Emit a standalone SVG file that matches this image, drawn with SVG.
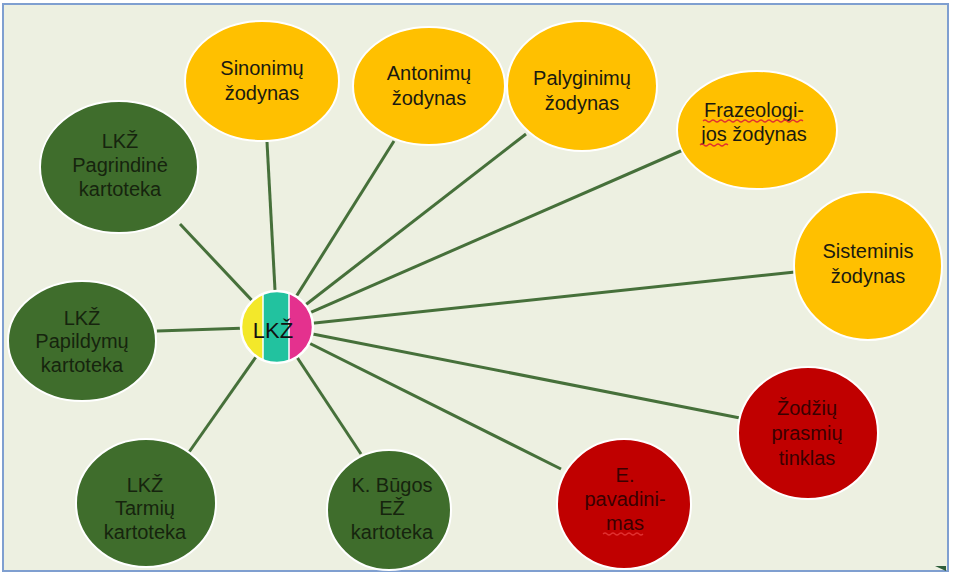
<svg xmlns="http://www.w3.org/2000/svg" width="953" height="577" viewBox="0 0 953 577">
<defs>
<style>
.lbl{font-family:"Liberation Sans",Arial,sans-serif;font-size:20px;text-anchor:middle}
.y{fill:#FFC000;stroke:#FFFFFF;stroke-width:2}
.g{fill:#3F6D2C;stroke:#FFFFFF;stroke-width:2}
.r{fill:#C00000;stroke:#FFFFFF;stroke-width:2}
.ty{fill:#1A1A10}
.tg{fill:#16240E}
.tr{fill:#3A0000}
.conn line{stroke:#46703A;stroke-width:3}
.sq{fill:none;stroke:#E03030;stroke-width:1.2}
</style>
</defs>
<rect x="0" y="0" width="953" height="577" fill="#FFFFFF"/>
<rect x="3" y="4" width="945" height="567" fill="#EDF0E1" stroke="#7F9FD0" stroke-width="2"/>
<polygon points="935,566 946,566 946,571" fill="#2E5E3A"/>
<g id="connectors" class="conn">
<line x1="277" y1="327" x2="267" y2="142"/>
<line x1="277" y1="327" x2="394" y2="141"/>
<line x1="277" y1="327" x2="526" y2="134"/>
<line x1="277" y1="327" x2="683" y2="150"/>
<line x1="277" y1="327" x2="795" y2="272"/>
<line x1="277" y1="327" x2="740" y2="418"/>
<line x1="277" y1="327" x2="561" y2="469"/>
<line x1="277" y1="327" x2="361" y2="454"/>
<line x1="277" y1="327" x2="187" y2="455"/>
<line x1="277" y1="327" x2="157" y2="331"/>
<line x1="277" y1="327" x2="180" y2="224"/>
</g>
<g id="sinonimu">
<ellipse class="y" cx="262" cy="81" rx="77" ry="60"/>
<text class="lbl ty" x="262" y="75">Sinonimų</text>
<text class="lbl ty" x="262" y="100">žodynas</text>
</g>
<g id="antonimu">
<ellipse class="y" cx="429" cy="86" rx="76" ry="59"/>
<text class="lbl ty" x="429" y="80">Antonimų</text>
<text class="lbl ty" x="429" y="105">žodynas</text>
</g>
<g id="palyginimu">
<ellipse class="y" cx="582" cy="86" rx="75" ry="65"/>
<text class="lbl ty" x="582" y="85">Palyginimų</text>
<text class="lbl ty" x="582" y="110">žodynas</text>
</g>
<g id="frazeologijos">
<ellipse class="y" cx="757" cy="130" rx="80" ry="59"/>
<text class="lbl ty" x="754" y="117">Frazeologi-</text>
<text class="lbl ty" x="754" y="141">jos žodynas</text>
<path class="sq" d="M703,121 q2,-2 4,0 t4,0 t4,0 t4,0 t4,0 t4,0 t4,0 t4,0 t4,0 t4,0 t4,0 t4,0 t4,0 t4,0 t4,0 t4,0 t4,0 t4,0 t4,0 t4,0 t4,0 t4,0 t4,0 t4,0 t4,0"/>
<path class="sq" d="M700,145 q2,-2 4,0 t4,0 t4,0 t4,0 t4,0 t4,0 t4,0"/>
</g>
<g id="sisteminis">
<ellipse class="y" cx="868" cy="266" rx="74" ry="74"/>
<text class="lbl ty" x="868" y="258">Sisteminis</text>
<text class="lbl ty" x="868" y="283">žodynas</text>
</g>
<g id="zodziu">
<ellipse class="r" cx="808" cy="433" rx="70" ry="66"/>
<text class="lbl tr" x="807" y="415">Žodžių</text>
<text class="lbl tr" x="807" y="440">prasmių</text>
<text class="lbl tr" x="807" y="465">tinklas</text>
</g>
<g id="pavadinimas">
<ellipse class="r" cx="624" cy="504" rx="67" ry="65"/>
<text class="lbl tr" x="625" y="482">E.</text>
<text class="lbl tr" x="625" y="506">pavadini-</text>
<text class="lbl tr" x="625" y="530">mas</text>
<path class="sq" d="M603,534 q2,-2 4,0 t4,0 t4,0 t4,0 t4,0 t4,0 t4,0 t4,0 t4,0 t4,0"/>
</g>
<g id="bugos">
<ellipse class="g" cx="389" cy="510" rx="62" ry="60"/>
<text class="lbl tg" x="392" y="492">K. Būgos</text>
<text class="lbl tg" x="392" y="515">EŽ</text>
<text class="lbl tg" x="392" y="539">kartoteka</text>
</g>
<g id="tarmiu">
<ellipse class="g" cx="146" cy="503" rx="70" ry="64"/>
<text class="lbl tg" x="145" y="492">LKŽ</text>
<text class="lbl tg" x="145" y="515">Tarmių</text>
<text class="lbl tg" x="145" y="539">kartoteka</text>
</g>
<g id="papildymu">
<ellipse class="g" cx="82" cy="341" rx="74" ry="60"/>
<text class="lbl tg" x="82" y="325">LKŽ</text>
<text class="lbl tg" x="82" y="348">Papildymų</text>
<text class="lbl tg" x="82" y="372">kartoteka</text>
</g>
<g id="pagrindine">
<ellipse class="g" cx="119" cy="167" rx="79" ry="66"/>
<text class="lbl tg" x="120" y="148">LKŽ</text>
<text class="lbl tg" x="120" y="172">Pagrindinė</text>
<text class="lbl tg" x="120" y="196">kartoteka</text>
</g>
<g id="lkz">
<clipPath id="cc"><circle cx="277" cy="327" r="36"/></clipPath>
<g clip-path="url(#cc)">
<rect x="240" y="290" width="23" height="74" fill="#F3E82A"/>
<rect x="263" y="290" width="26" height="74" fill="#22C29F"/>
<rect x="289" y="290" width="25" height="74" fill="#E4318E"/>
<line x1="263" y1="290" x2="263" y2="364" stroke="#FFFFFF" stroke-width="1.5"/>
<line x1="289" y1="290" x2="289" y2="364" stroke="#FFFFFF" stroke-width="1.5"/>
</g>
<circle cx="277" cy="327" r="36" fill="none" stroke="#FFFFFF" stroke-width="2.5"/>
<text x="273" y="338" font-family="Liberation Sans,Arial,sans-serif" font-size="22" text-anchor="middle" fill="#111111">LKŽ</text>
</g>
</svg>
